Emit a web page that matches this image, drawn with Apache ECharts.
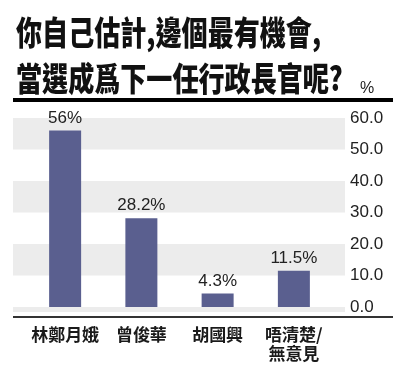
<!DOCTYPE html>
<html>
<head>
<meta charset="utf-8">
<script src="https://cdn.jsdelivr.net/npm/echarts@6/dist/echarts.min.js"></script>
<style>html,body{margin:0;padding:0;background:#fff;}#c{width:400px;height:369px;}</style>
</head>
<body>
<div id="c"></div>
<script>
var titleLines = ['你自己估計,邊個最有機會,', '當選成爲下一任行政長官呢?'];
var unitLabel = '%';
var categories = ['林鄭月娥', '曾俊華', '胡國興', '唔清楚/\n無意見'];
var values = [56, 28.2, 4.3, 11.5];
var valueLabels = ['56%', '28.2%', '4.3%', '11.5%'];
var yTicks = [0, 10, 20, 30, 40, 50, 60];
var yMin = -1.6, yMax = 60;
var bandRanges = [[50, 60], [30, 40], [10, 20], [-1.6, 0]];

var chart = echarts.init(document.getElementById('c'));
var gridTop = 118, gridBottom = 57;
chart.setOption({
  animation: false,
  backgroundColor: '#fff',
  grid: [
    {left: 13, right: 55, top: gridTop, bottom: gridBottom},
    {left: 27, right: 68, top: gridTop, bottom: gridBottom}
  ],
  xAxis: [
    {gridIndex: 0, type: 'value', min: 0, max: 1, show: false},
    {gridIndex: 1, type: 'category', data: categories,
     axisLine: {show: false}, axisTick: {show: false},
     axisLabel: {interval: 0, margin: 13, fontSize: 17, fontWeight: 'bold', color: '#1a1a1a', lineHeight: 19,
       fontFamily: 'Noto Sans CJK TC', hideOverlap: false}}
  ],
  yAxis: [
    {gridIndex: 0, type: 'value', position: 'right', min: yMin, max: yMax,
     axisLine: {show: false}, axisTick: {show: false}, splitLine: {show: false},
     axisLabel: {customValues: yTicks, margin: 5, fontSize: 17, color: '#222', fontFamily: 'Liberation Sans',
       formatter: function (v) { return v.toFixed(1); }}},
    {gridIndex: 1, type: 'value', min: yMin, max: yMax, show: false}
  ],
  series: [
    {type: 'line', xAxisIndex: 0, yAxisIndex: 0, data: [], silent: true,
     markArea: {silent: true, itemStyle: {color: '#ececec'},
       data: bandRanges.map(function (r) { return [{yAxis: r[0]}, {yAxis: r[1]}]; })}},
    {type: 'bar', xAxisIndex: 1, yAxisIndex: 1, data: values, barWidth: 32,
     itemStyle: {color: '#5a5f8f'},
     label: {show: true, position: 'top', distance: 4, fontSize: 17, color: '#222', fontFamily: 'Liberation Sans',
       formatter: function (p) { return valueLabels[p.dataIndex]; }}}
  ],
  graphic: [
    {type: 'text', x: 16, y: 32, scaleX: 0.79, style: {x: 0, y: 0, text: titleLines[0], fill: '#111',
      font: '900 33px "Noto Sans CJK TC"', align: 'left', verticalAlign: 'middle'}},
    {type: 'text', x: 16, y: 78, scaleX: 0.79, style: {x: 0, y: 0, text: titleLines[1], fill: '#111',
      font: '900 33px "Noto Sans CJK TC"', align: 'left', verticalAlign: 'middle'}},
    {type: 'text', x: 360, y: 89, style: {x: 0, y: 0, text: unitLabel, fill: '#222',
      font: '16px "Liberation Sans"', align: 'left', verticalAlign: 'middle'}},
    {type: 'rect', shape: {x: 13, y: 98, width: 380, height: 4}, style: {fill: '#000'}},
    {type: 'line', shape: {x1: 13, y1: 317, x2: 393, y2: 317}, style: {stroke: '#333', lineWidth: 2}}
  ]
});
</script>
</body>
</html>
